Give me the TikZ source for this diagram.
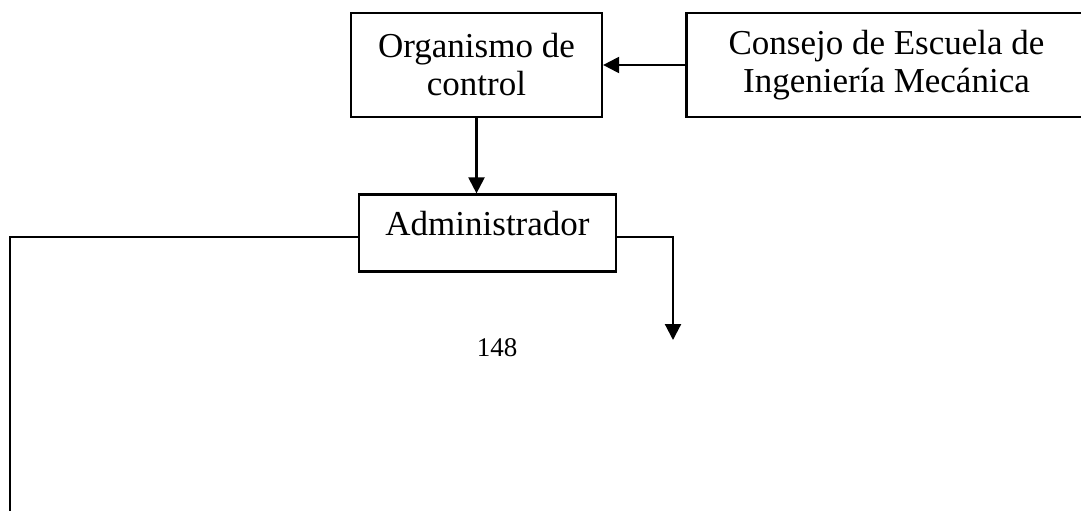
\documentclass[tikz,border=0pt]{standalone}
\usepackage{fontspec}
\setmainfont{Liberation Serif}
\usetikzlibrary{arrows.meta}

\tikzset{
  unitbox/.style={draw, line width=2.2pt, inner sep=0pt, align=center,
    font=\fontsize{35}{38}\selectfont},
  link/.style={line width=2.2pt},
  arrowlink/.style={link, -{Triangle[length=16pt, width=16pt]}},
}

\begin{document}
\begin{tikzpicture}[x=1pt, y=1pt]
  \useasboundingbox (0,0) rectangle (1081,-511);

  % governing boxes
  \node[unitbox, minimum width=251pt, minimum height=104pt] (org) at (476.5,-65)
    {Organismo de\\control};
  \node[unitbox, minimum width=400pt, minimum height=104pt] (consejo) at (886.5,-65)
    {Consejo de Escuela de\\Ingeniería Mecánica};

  % administrator, text set in the upper part of the box
  \node[unitbox, text width=257pt, text height=41pt, text depth=36pt] (adm) at (487.5,-233)
    {Administrador};

  % page number
  \node[font=\fontsize{27}{30}\selectfont, inner sep=0pt] (page) at (497,-348) {148};

  % free ends of the outgoing branches
  \coordinate (lcorner) at (10,-237);
  \coordinate (lend) at (10,-515);
  \coordinate (rcorner) at (673,-237);
  \coordinate (rend) at (673,-340);

  % connectors
  \draw[arrowlink] (consejo.west) -- (org.east);
  \draw[arrowlink] (org.south) -- (org.south |- adm.north);
  \draw[link] (adm.west |- lcorner) -- (lcorner) -- (lend);
  \draw[arrowlink] (adm.east |- rcorner) -- (rcorner) -- (rend);
\end{tikzpicture}
\end{document}
